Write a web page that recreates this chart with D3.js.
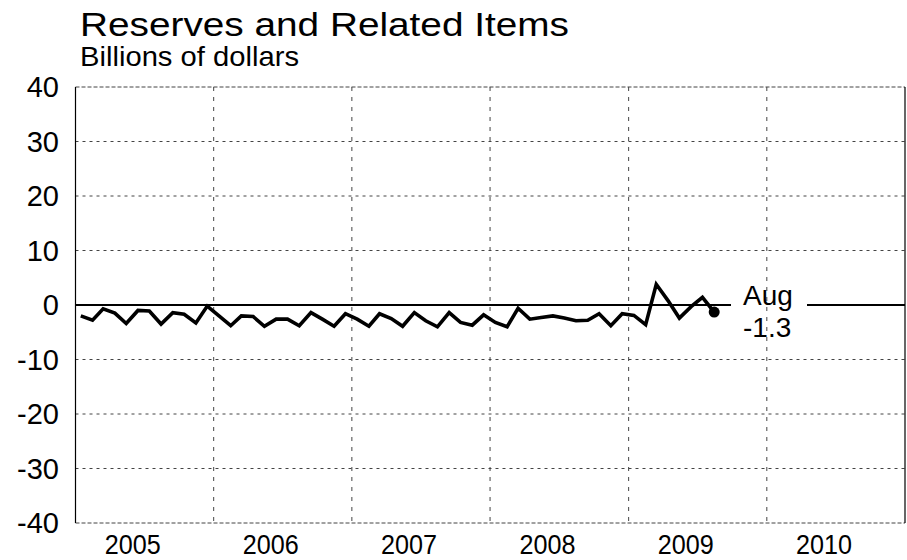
<!DOCTYPE html>
<html lang="en">
<head>
  <meta charset="UTF-8" />
  <title>Reserves and Related Items</title>
  <script src="https://d3js.org/d3.v7.min.js"></script>
  <style>
    body {
      margin: 0;
      padding: 0;
      background: #fff;
      font-family: Arial, "Liberation Sans", sans-serif;
    }
    svg {
      display: block;
    }
    .grid {
      stroke: #444;
      stroke-width: 1;
    }
    .tick-label {
      fill: #000;
    }
  </style>
</head>
<body>
  <svg width="907" height="560"></svg>

  <script>
    // monthly values, Jan 2005 .. Aug 2009 (billions of dollars)
    const startMonth = "2005-01";
    const values = [
      -2.0, -2.8, -0.7, -1.5, -3.4, -1.0, -1.1, -3.5, -1.4, -1.7, -3.3, -0.2,
      -2.0, -3.8, -2.0, -2.1, -3.9, -2.6, -2.6, -3.8, -1.4, -2.6, -3.9, -1.6,
      -2.6, -3.9, -1.6, -2.5, -3.9, -1.4, -2.9, -4.0, -1.4, -3.2, -3.7, -1.8,
      -3.2, -4.0, -0.6, -2.6, -2.3, -2.0, -2.4, -2.9, -2.8, -1.6, -3.8, -1.6,
      -1.9, -3.6, 3.8, 0.8, -2.4, -0.3, 1.4, -1.3
    ];
    const years = [2005, 2006, 2007, 2008, 2009, 2010];
    const yTicks = [40, 30, 20, 10, 0, -10, -20, -30, -40];
    const lastLabel = ["Aug", "-1.3"];

    const plotL = 75.5, plotR = 905, plotT = 87, plotB = 523;
    const svg = d3.select("svg");

    const parse = d3.timeParse("%Y-%m");
    const t0 = parse(startMonth);
    const data = values.map((v, i) => ({
      date: d3.timeDay.offset(d3.timeMonth.offset(t0, i), 14),
      value: v
    }));

    const x = d3.scaleTime()
      .domain([new Date(years[0], 0, 1), new Date(years[years.length - 1] + 1, 0, 1)])
      .range([plotL, plotR]);
    const y = d3.scaleLinear().domain([-40, 40]).range([plotB, plotT]);

    // horizontal grid
    svg.selectAll(".hgrid")
      .data(yTicks.filter((d) => d !== 0))
      .enter()
      .append("line")
      .attr("class", "grid")
      .attr("x1", plotL)
      .attr("x2", plotR)
      .attr("y1", (d) => y(d))
      .attr("y2", (d) => y(d))
      .attr("stroke-dasharray", (d) => (Math.abs(d) === 40 ? "4,2" : "3,4"));

    // vertical grid at year boundaries
    svg.selectAll(".vgrid")
      .data(years.slice(1))
      .enter()
      .append("line")
      .attr("class", "grid")
      .attr("x1", (d) => x(new Date(d, 0, 1)))
      .attr("x2", (d) => x(new Date(d, 0, 1)))
      .attr("y1", plotT)
      .attr("y2", plotB)
      .attr("stroke-dasharray", "4,6");

    // side borders
    [plotL, plotR].forEach((xx) => {
      svg.append("line")
        .attr("x1", xx).attr("x2", xx)
        .attr("y1", plotT).attr("y2", plotB)
        .attr("stroke", "#000")
        .attr("stroke-width", 1.2);
    });

    // zero line, broken behind the label
    const gapStart = 731, gapEnd = 807;
    [[plotL, gapStart], [gapEnd, plotR]].forEach(([a, b]) => {
      svg.append("line")
        .attr("x1", a).attr("x2", b)
        .attr("y1", y(0)).attr("y2", y(0))
        .attr("stroke", "#000")
        .attr("stroke-width", 2);
    });

    // y tick labels
    svg.selectAll(".ylab")
      .data(yTicks)
      .enter()
      .append("text")
      .attr("class", "tick-label")
      .attr("font-size", 29)
      .attr("x", 59)
      .attr("y", (d) => y(d))
      .attr("dy", "0.36em")
      .attr("text-anchor", "end")
      .text((d) => d);

    // year labels (tall, narrow glyphs)
    svg.selectAll(".xlab")
      .data(years)
      .enter()
      .append("text")
      .attr("class", "tick-label")
      .attr("font-size", 28)
      .attr("x", (d) => x(new Date(d, 5, 1)) - 28)
      .attr("y", 554)
      .attr("textLength", 56)
      .attr("lengthAdjust", "spacingAndGlyphs")
      .text((d) => d);

    // series
    const line = d3.line()
      .x((d) => x(d.date))
      .y((d) => y(d.value));

    svg.append("path")
      .datum(data)
      .attr("d", line)
      .attr("fill", "none")
      .attr("stroke", "#000")
      .attr("stroke-width", 3.6)
      .attr("stroke-linejoin", "miter");

    const last = data[data.length - 1];
    svg.append("circle")
      .attr("cx", x(last.date))
      .attr("cy", y(last.value))
      .attr("r", 5.5)
      .attr("fill", "#000");

    svg.append("text")
      .attr("x", 743)
      .attr("y", 305)
      .attr("font-size", 28)
      .text(lastLabel[0]);
    svg.append("text")
      .attr("x", 743)
      .attr("y", 337)
      .attr("font-size", 28)
      .text(lastLabel[1]);

    // titles
    svg.append("text")
      .attr("x", 80)
      .attr("y", 36)
      .attr("font-size", 33)
      .attr("textLength", 489)
      .attr("lengthAdjust", "spacingAndGlyphs")
      .text("Reserves and Related Items");
    svg.append("text")
      .attr("x", 80)
      .attr("y", 66)
      .attr("font-size", 28)
      .attr("textLength", 219)
      .attr("lengthAdjust", "spacingAndGlyphs")
      .text("Billions of dollars");
  </script>
</body>
</html>
